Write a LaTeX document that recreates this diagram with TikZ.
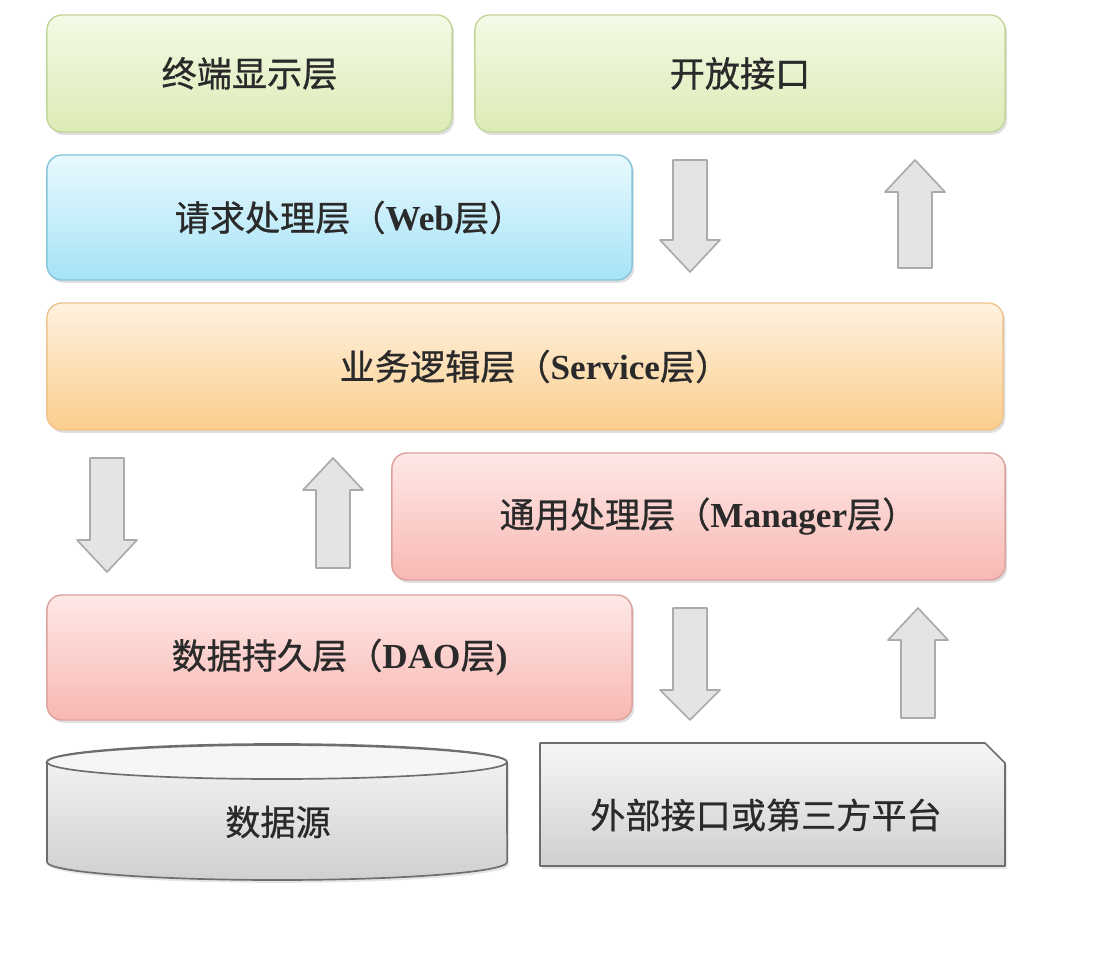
\documentclass[tikz,border=0pt]{standalone}
\usepackage{fontspec}
\setmainfont{Liberation Serif}
\newfontfamily\cjk[FakeBold=0.8]{Noto Sans CJK SC}
\usetikzlibrary{shadows}
\definecolor{txt}{HTML}{2A2A2A}
\definecolor{grnT}{HTML}{F4FAE6}\definecolor{grnB}{HTML}{DCEBB5}\definecolor{grnD}{HTML}{C2D59A}
\definecolor{bluT}{HTML}{E8F9FE}\definecolor{bluB}{HTML}{A6E3F6}\definecolor{bluD}{HTML}{86C6DC}
\definecolor{orgT}{HTML}{FEF2E0}\definecolor{orgB}{HTML}{FBCD8C}\definecolor{orgD}{HTML}{EDC38E}
\definecolor{pnkT}{HTML}{FEE8E6}\definecolor{pnkB}{HTML}{F8B8B3}\definecolor{pnkD}{HTML}{DDA29E}
\definecolor{gryT}{HTML}{F6F6F6}\definecolor{gryB}{HTML}{D0D0D0}\definecolor{gryD}{HTML}{6E6E6E}
\definecolor{arrF}{HTML}{E4E4E4}\definecolor{arrD}{HTML}{ABABAB}
\tikzset{
  layer/.style={rounded corners=0.375cm, draw, line width=1pt, font=\fontsize{25}{28}\selectfont\color{txt},
    drop shadow={shadow xshift=1.5pt, shadow yshift=-2pt, opacity=0.25}},
  green/.style={layer, top color=grnT, bottom color=grnB, draw=grnD},
  blue/.style={layer, top color=bluT, bottom color=bluB, draw=bluD},
  orange/.style={layer, top color=orgT, bottom color=orgB, draw=orgD},
  pink/.style={layer, top color=pnkT, bottom color=pnkB, draw=pnkD},
  blockarr/.style={fill=arrF, draw=arrD, line width=1.2pt, line join=round},
  lbl/.style={font=\fontsize{25}{28}\selectfont\color{txt}}
}
\newcommand\arrdown[4]{\draw[blockarr] ({#1-17},#2) -- ({#1+17},#2) -- ({#1+17},#3) -- ({#1+30},#3) -- (#1,#4) -- ({#1-30},#3) -- ({#1-17},#3) -- cycle;}
\newcommand\arrup[4]{\draw[blockarr] ({#1-17},#2) -- ({#1+17},#2) -- ({#1+17},#3) -- ({#1+30},#3) -- (#1,#4) -- ({#1-30},#3) -- ({#1-17},#3) -- cycle;}
\begin{document}
\begin{tikzpicture}[x=0.025cm, y=-0.025cm]
\useasboundingbox[fill=white] (0,0) rectangle (1108,970);
% top row
\node[green, minimum width=10.125cm, minimum height=2.925cm] (term) at (249.5,73.5) {\cjk 终端显示层};
\node[green, minimum width=13.25cm, minimum height=2.925cm] (open) at (740,73.5) {\cjk 开放接口};
% web
\node[blue, minimum width=14.625cm, minimum height=3.125cm] (web) at (339.5,217.5) {\hspace*{0.5cm}{\cjk 请求处理层（}\textbf{Web}{\cjk 层）}};
% arrows between web row and service
\arrdown{690}{160}{240}{272}
\arrup{915}{268}{192}{160}
% service
\node[orange, minimum width=23.9cm, minimum height=3.175cm] (svc) at (525,366.5) {\hspace*{0.5cm}{\cjk 业务逻辑层（}\textbf{Service}{\cjk 层）}};
% arrows left middle
\arrdown{107}{458}{540}{572}
\arrup{333}{568}{490}{458}
% manager
\node[pink, minimum width=15.325cm, minimum height=3.175cm] (mgr) at (698.5,516.5) {\hspace*{0.5cm}{\cjk 通用处理层（}\textbf{Manager}{\cjk 层）}};
% dao
\node[pink, minimum width=14.625cm, minimum height=3.125cm] (dao) at (339.5,657.5) {{\cjk 数据持久层（}\textbf{DAO}{\cjk 层}\textbf{)}};
% arrows bottom right
\arrdown{690}{608}{690}{720}
\arrup{918}{718}{640}{608}
% data source cylinder
\path[top color=gryT, bottom color=gryB, draw=gryD, line width=1.2pt, drop shadow={shadow xshift=1.5pt, shadow yshift=-2pt, opacity=0.2}]
  (47,762) -- (47,862) arc[start angle=180, end angle=360, x radius=5.75cm, y radius=0.45cm]
  -- (507,762) arc[start angle=0, end angle=180, x radius=5.75cm, y radius=0.45cm] -- cycle;
\draw[fill=gryT, draw=gryD, line width=1.2pt] (277,762) ellipse[x radius=5.75cm, y radius=0.425cm];
\node[lbl] (src) at (278,822) {\cjk 数据源};
% external interface
\path[top color=gryT, bottom color=gryB, draw=gryD, line width=1.2pt, line join=round, drop shadow={shadow xshift=1.5pt, shadow yshift=-2pt, opacity=0.2}]
  (540,743) -- (985,743) -- (1005,763) -- (1005,866) -- (540,866) -- cycle;
\node[lbl] (ext) at (766,815) {\cjk 外部接口或第三方平台};
\end{tikzpicture}
\end{document}
